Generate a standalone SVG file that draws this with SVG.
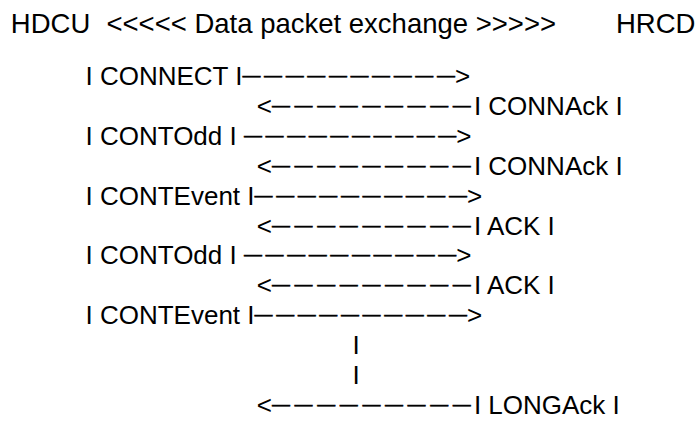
<svg xmlns="http://www.w3.org/2000/svg" width="695" height="440" viewBox="0 0 695 440">
<style>
text{font-family:"Liberation Sans",Arial,sans-serif;font-size:26px;fill:#000}
.h{font-size:27.5px}
.d{font-size:18px;letter-spacing:3.6px;stroke:#000;stroke-width:0.5}
.e{font-size:18px;letter-spacing:4.6px;stroke:#000;stroke-width:0.5}
.f{font-size:18px;stroke:#000;stroke-width:0.5}
</style>
<rect width="695" height="440" fill="#fff"/>
<g id="header">
<text class="h" x="10.8" y="33">HDCU</text>
<text class="h" x="106.5" y="33">&lt;&lt;&lt;&lt;&lt; Data packet exchange &gt;&gt;&gt;&gt;&gt;</text>
<text class="h" x="616" y="33">HRCD</text>
</g>
<g id="messages">
<g id="m1"><text x="85.5" y="85">I CONNECT I<tspan class="d" dy="-4">—————————</tspan><tspan class="f">—</tspan><tspan dy="4">&gt;</tspan></text></g>
<g id="m2"><text x="256.8" y="114.9">&lt;<tspan class="e" dy="-4">————————</tspan><tspan class="f">—</tspan><tspan dx="3.1" dy="4">I CONNAck I</tspan></text></g>
<g id="m3"><text x="85.5" y="144.8">I CONTOdd I <tspan class="d" dy="-4">—————————</tspan><tspan class="f">—</tspan><tspan dy="4">&gt;</tspan></text></g>
<g id="m4"><text x="256.8" y="174.7">&lt;<tspan class="e" dy="-4">————————</tspan><tspan class="f">—</tspan><tspan dx="3.1" dy="4">I CONNAck I</tspan></text></g>
<g id="m5"><text x="85.5" y="204.6">I CONTEvent I<tspan class="d" dy="-4">—————————</tspan><tspan class="f">—</tspan><tspan dy="4">&gt;</tspan></text></g>
<g id="m6"><text x="256.8" y="234.5">&lt;<tspan class="e" dy="-4">————————</tspan><tspan class="f">—</tspan><tspan dx="3.1" dy="4">I ACK I</tspan></text></g>
<g id="m7"><text x="85.5" y="264.4">I CONTOdd I <tspan class="d" dy="-4">—————————</tspan><tspan class="f">—</tspan><tspan dy="4">&gt;</tspan></text></g>
<g id="m8"><text x="256.8" y="294.3">&lt;<tspan class="e" dy="-4">————————</tspan><tspan class="f">—</tspan><tspan dx="3.1" dy="4">I ACK I</tspan></text></g>
<g id="m9"><text x="85.5" y="324.2">I CONTEvent I<tspan class="d" dy="-4">—————————</tspan><tspan class="f">—</tspan><tspan dy="4">&gt;</tspan></text></g>
<g id="m10"><text x="256.8" y="413.9">&lt;<tspan class="e" dy="-4">————————</tspan><tspan class="f">—</tspan><tspan dx="3.1" dy="4">I LONGAck I</tspan></text></g>
</g>
<g id="connectors">
<text x="352.6" y="354.1">I</text>
<text x="352.6" y="384">I</text>
</g>
</svg>
